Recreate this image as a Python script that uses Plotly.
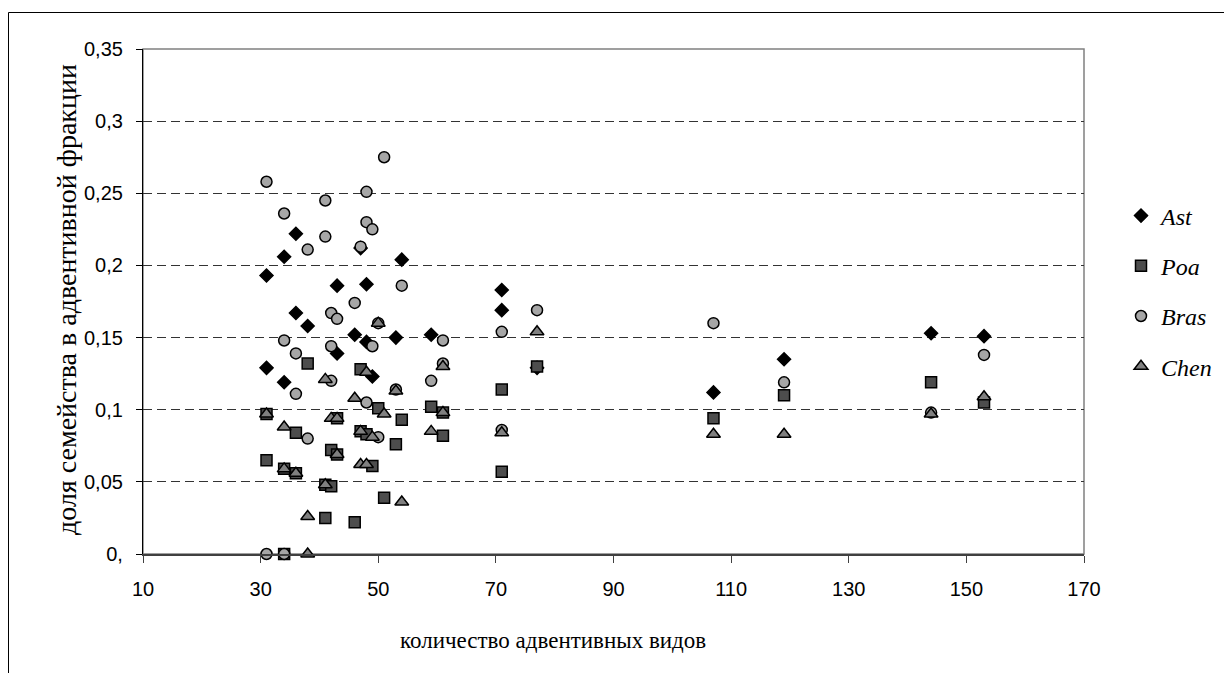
import plotly.graph_objects as go

# ---- data ----
ast_x = [31, 31, 34, 34, 36, 36, 38, 43, 43, 46, 47, 48, 48, 49, 53, 54, 59, 71, 71, 77, 107, 119, 144, 153]
ast_y = [0.193, 0.129, 0.206, 0.119, 0.222, 0.167, 0.158, 0.186, 0.139, 0.152, 0.212, 0.187, 0.147, 0.123,
         0.150, 0.204, 0.152, 0.183, 0.169, 0.129, 0.112, 0.135, 0.153, 0.151]

poa_x = [31, 31, 34, 34, 36, 36, 38, 41, 41, 42, 42, 43, 43, 46, 47, 47, 48, 49, 50, 51, 53, 54, 59, 61, 61,
         71, 71, 77, 107, 119, 144, 153]
poa_y = [0.097, 0.065, 0.059, 0.0, 0.084, 0.056, 0.132, 0.025, 0.048, 0.047, 0.072, 0.069, 0.094, 0.022,
         0.128, 0.085, 0.083, 0.061, 0.101, 0.039, 0.076, 0.093, 0.102, 0.098, 0.082,
         0.114, 0.057, 0.130, 0.094, 0.110, 0.119, 0.105]

bras_x = [31, 31, 34, 34, 34, 36, 36, 38, 38, 41, 41, 42, 42, 42, 43, 46, 47, 48, 48, 48, 49, 49, 50, 50,
          51, 53, 54, 59, 61, 61, 71, 71, 77, 107, 119, 144, 153]
bras_y = [0.258, 0.0, 0.236, 0.148, 0.0, 0.139, 0.111, 0.211, 0.080, 0.245, 0.220, 0.167, 0.144, 0.120,
          0.163, 0.174, 0.213, 0.251, 0.230, 0.105, 0.225, 0.144, 0.160, 0.081,
          0.275, 0.114, 0.186, 0.120, 0.148, 0.132, 0.154, 0.086, 0.169, 0.160, 0.119, 0.098, 0.138]

chen_x = [31, 34, 34, 36, 38, 38, 41, 41, 42, 43, 43, 46, 47, 47, 48, 48, 49, 50, 51, 53, 54, 59, 61, 61,
          71, 77, 107, 119, 144, 153]
chen_y = [0.097, 0.088, 0.059, 0.056, 0.026, 0.0, 0.121, 0.048, 0.094, 0.094, 0.069, 0.108, 0.085, 0.062,
          0.062, 0.126, 0.081, 0.160, 0.097, 0.113, 0.036, 0.085, 0.130, 0.098,
          0.084, 0.154, 0.083, 0.083, 0.097, 0.109]

y_ticks = [0, 0.05, 0.1, 0.15, 0.2, 0.25, 0.3, 0.35]
y_ticktext = ["0,", "0,05", "0,1", "0,15", "0,2", "0,25", "0,3", "0,35"]
x_ticks = [10, 30, 50, 70, 90, 110, 130, 150, 170]

series = [
    ("Ast", ast_x, ast_y, "diamond", "#000000", 10),
    ("Poa", poa_x, poa_y, "square", "#4d4d4d", 11),
    ("Bras", bras_x, bras_y, "circle", "#a6a6a6", 11),
    ("Chen", chen_x, chen_y, "triangle-up", "#808080", 12),
]

fig = go.Figure()
for name, xs, ys, sym, col, sz in series:
    fig.add_trace(go.Scatter(
        x=xs, y=ys, mode="markers", name=name, legendgroup=name,
        marker=dict(symbol=sym, size=sz, color=col, line=dict(color="#000000", width=1.5)),
        cliponaxis=False,
    ))

W, H = 1224, 673
L, R, T, B = 143, 140, 49, 119
pw, ph = W - L - R, H - T - B

def px_x(p):
    return (p - L) / pw

def px_y(p):
    return (H - B - p) / ph

serif = "Liberation Serif, Times New Roman, serif"

fig.update_layout(
    width=W, height=H,
    margin=dict(l=L, r=R, t=T, b=B),
    paper_bgcolor="white", plot_bgcolor="white",
    font=dict(family="Liberation Sans, Arial", size=20, color="#000000"),
    showlegend=True,
    legend=dict(
        xref="container", yref="container",
        x=1121 / W, y=1 - 291 / H, xanchor="left", yanchor="middle",
        font=dict(family=serif, size=24, color="#000000", style="italic"),
        tracegroupgap=16, itemwidth=30, bgcolor="rgba(0,0,0,0)",
    ),
    xaxis=dict(
        range=[10, 170], tickvals=x_ticks, ticks="outside", ticklen=7, tickcolor="#404040",
        showline=True, linecolor="#404040", linewidth=1.5, showgrid=False, zeroline=False,
        tickfont=dict(size=20), ticklabelstandoff=9,
    ),
    yaxis=dict(
        range=[0, 0.35], tickvals=y_ticks, ticktext=y_ticktext, ticks="outside", ticklen=6,
        tickcolor="#000000", showline=True, linecolor="#000000", linewidth=1.2,
        showgrid=True, gridcolor="#333333", gridwidth=1, griddash="9px,5px", zeroline=False,
        tickfont=dict(size=20), ticklabelstandoff=9,
    ),
    shapes=[
        # plot-area frame (top and right edges)
        dict(type="rect", xref="paper", yref="paper", x0=0, x1=1, y0=0, y1=1,
             line=dict(color="#808080", width=1.5), layer="below"),
        # outer chart-area frame (left and top edges visible)
        dict(type="line", xref="paper", yref="paper", x0=px_x(8.5), x1=px_x(8.5), y0=px_y(680), y1=px_y(12.5),
             line=dict(color="#000000", width=1), layer="below"),
        dict(type="line", xref="paper", yref="paper", x0=px_x(8.5), x1=px_x(1224), y0=px_y(12.5), y1=px_y(12.5),
             line=dict(color="#000000", width=1), layer="below"),
    ],
    annotations=[
        dict(text="количество адвентивных видов", xref="paper", yref="paper",
             x=px_x(553), y=px_y(640), xanchor="center", yanchor="middle", showarrow=False,
             font=dict(family=serif, size=23, color="#000000")),
        dict(text="доля семейства в адвентивной фракции", xref="paper", yref="paper",
             x=px_x(66), y=px_y(300), xanchor="center", yanchor="middle", showarrow=False, textangle=-90,
             font=dict(family=serif, size=28, color="#000000")),
    ],
)

fig.write_html("out.html")
